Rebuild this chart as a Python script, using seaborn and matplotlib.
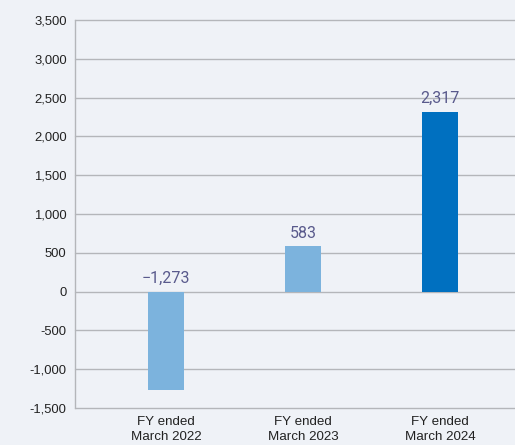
import matplotlib
matplotlib.use("Agg")
import matplotlib.pyplot as plt
import seaborn as sns
import pandas as pd

# Net income by fiscal year (millions of yen)
periods = ["FY ended\nMarch 2022", "FY ended\nMarch 2023", "FY ended\nMarch 2024"]
values = [-1273, 583, 2317]
value_labels = ["\u22121,273", "583", "2,317"]
bar_colors = ["#7cb3dd", "#7cb3dd", "#0070c0"]
y_ticks = [3500, 3000, 2500, 2000, 1500, 1000, 500, 0, -500, -1000, -1500]
y_tick_labels = ["3,500", "3,000", "2,500", "2,000", "1,500", "1,000", "500", "0",
                 "-500", "-1,000", "-1,500"]

bg = "#eff2f7"
sns.set_theme(style="white")
plt.rcParams["font.family"] = ["Liberation Sans", "DejaVu Sans"]

df = pd.DataFrame({"period": periods, "value": values})

fig = plt.figure(figsize=(5.15, 4.45), dpi=100, facecolor=bg)
ax = fig.add_axes([0.1456, 0.0831, 0.8544, 0.8719])
ax.set_facecolor(bg)

sns.barplot(data=df, x="period", y="value", hue="period", palette=bar_colors,
            width=0.263, legend=False, ax=ax, saturation=1, zorder=3,
            linewidth=0, edgecolor="none")

ax.set_ylim(-1500, 3500)
ax.set_xlim(-0.664, 2.547)
ax.set_yticks(y_ticks)
ax.set_yticklabels(y_tick_labels)
ax.yaxis.grid(True, color="#b4b6ba", linewidth=1.0, zorder=0)
for gl in ax.yaxis.get_gridlines():
    gl.set_clip_on(False)
ax.set_axisbelow(True)

for side in ["top", "right", "bottom"]:
    ax.spines[side].set_visible(False)
ax.spines["left"].set_color("#b4b6ba")
ax.spines["left"].set_linewidth(1.0)

ax.tick_params(axis="y", length=0, pad=6, labelsize=9.4, labelcolor="#222222")
ax.tick_params(axis="x", length=0, pad=6, labelsize=9.6, labelcolor="#222222")
for lbl in ax.get_xticklabels():
    lbl.set_linespacing(1.3)
ax.set_xlabel("")
ax.set_ylabel("")

for i, (v, txt) in enumerate(zip(values, value_labels)):
    base = max(v, 0)
    ax.annotate(txt, (i, base), xytext=(0, 4), textcoords="offset points",
                ha="center", va="bottom", fontsize=11.5, color="#595a8c",
                family=["Roboto", "DejaVu Sans"])

fig.savefig("out.png", dpi=100, facecolor=bg)
